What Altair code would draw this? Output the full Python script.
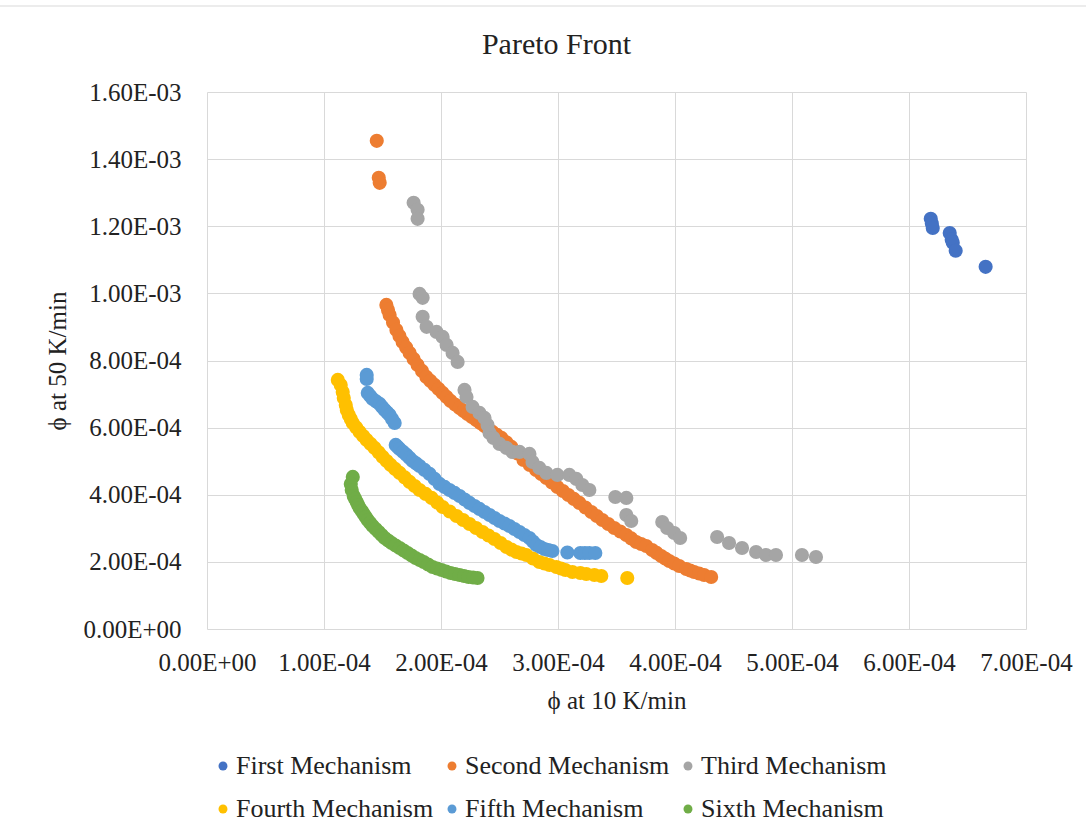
import altair as alt
import pandas as pd

FONT = "Liberation Serif"
TXT = "#222222"
GRID = "#d9d9d9"

series_names = ["First Mechanism", "Second Mechanism", "Third Mechanism",
                "Fourth Mechanism", "Fifth Mechanism", "Sixth Mechanism"]
series_colors = ["#4472C4", "#ED7D31", "#A5A5A5", "#FFC000", "#5B9BD5", "#70AD47"]

x_ticks = [0.0, 1e-4, 2e-4, 3e-4, 4e-4, 5e-4, 6e-4, 7e-4]
y_ticks = [0.0, 2e-4, 4e-4, 6e-4, 8e-4, 1e-3, 1.2e-3, 1.4e-3, 1.6e-3]

# values, in units of 1e-4
first_x = [6.186, 6.195, 6.203, 6.348, 6.365, 6.374, 6.399, 6.655]
first_y = [12.22, 12.08, 11.95, 11.80, 11.60, 11.51, 11.27, 10.79]

second_x = [1.451, 1.468, 1.476,
            1.533, 1.547, 1.561, 1.590, 1.619, 1.645, 1.672, 1.702, 1.732, 1.766, 1.800,
            1.838, 1.875, 1.910, 1.945, 1.980, 2.014, 2.048, 2.082, 2.120, 2.159, 2.193,
            2.227, 2.264, 2.301, 2.336, 2.372, 2.406, 2.440, 2.478, 2.517, 2.560, 2.602,
            2.654, 2.705, 2.759, 2.813, 2.857, 2.901, 2.948, 2.995, 3.042, 3.089, 3.136,
            3.183, 3.234, 3.285, 3.332, 3.379, 3.430, 3.481, 3.532, 3.584, 3.626, 3.669,
            3.711, 3.754, 3.805, 3.843, 3.882, 3.916, 3.951, 3.993, 4.036, 4.096, 4.130,
            4.164, 4.206, 4.249, 4.309]
second_y = [14.545, 13.443, 13.294,
            9.657, 9.508, 9.359, 9.135, 8.912, 8.733, 8.554, 8.390, 8.226, 8.047, 7.869,
            7.690, 7.511, 7.392, 7.273, 7.153, 7.034, 6.915, 6.796, 6.690, 6.587, 6.497,
            6.408, 6.318, 6.229, 6.140, 6.051, 5.961, 5.872, 5.782, 5.693, 5.559, 5.425,
            5.231, 5.037, 4.888, 4.739, 4.620, 4.501, 4.366, 4.232, 4.113, 3.994, 3.875,
            3.756, 3.621, 3.487, 3.368, 3.249, 3.130, 3.010, 2.906, 2.802, 2.698, 2.593,
            2.534, 2.474, 2.355, 2.266, 2.176, 2.101, 2.027, 1.952, 1.878, 1.788, 1.743,
            1.699, 1.654, 1.610, 1.550]

third_x = [1.766, 1.800, 1.800, 1.817, 1.843, 1.843, 1.877, 1.962, 2.014, 2.048, 2.099,
           2.142, 2.201, 2.218, 2.270, 2.329, 2.372, 2.398, 2.415, 2.449, 2.500, 2.560,
           2.611, 2.671, 2.756, 2.782, 2.841, 2.901, 2.995, 3.097, 3.157, 3.208, 3.268,
           3.490, 3.584, 3.584, 3.626, 3.891, 3.933, 3.993, 4.044, 4.360, 4.462, 4.573,
           4.693, 4.778, 4.863, 5.085, 5.205]
third_y = [12.697, 12.489, 12.220, 9.985, 9.866, 9.300, 9.002, 8.852, 8.703, 8.465, 8.226,
           7.958, 7.124, 6.915, 6.617, 6.438, 6.289, 6.080, 5.842, 5.693, 5.514, 5.395,
           5.276, 5.276, 5.216, 4.978, 4.799, 4.650, 4.590, 4.590, 4.471, 4.292, 4.143,
           3.934, 3.905, 3.398, 3.219, 3.189, 3.010, 2.861, 2.712, 2.742, 2.563, 2.414,
           2.295, 2.206, 2.206, 2.206, 2.146]

fourth_x = [1.118, 1.143, 1.160, 1.169, 1.186, 1.195, 1.212, 1.229, 1.246, 1.275, 1.305,
            1.335, 1.365, 1.399, 1.433, 1.468, 1.502, 1.536, 1.570, 1.608, 1.647, 1.690,
            1.732, 1.775, 1.817, 1.869, 1.920, 1.967, 2.014, 2.074, 2.133, 2.189, 2.244,
            2.300, 2.355, 2.406, 2.457, 2.509, 2.560, 2.602, 2.645, 2.688, 2.730, 2.786,
            2.841, 2.884, 2.927, 2.986, 3.025, 3.063, 3.123, 3.191, 3.242, 3.311, 3.370,
            3.592]
fourth_y = [7.422, 7.273, 7.064, 6.885, 6.677, 6.528, 6.379, 6.260, 6.140, 6.006, 5.872,
            5.752, 5.633, 5.514, 5.395, 5.261, 5.127, 5.007, 4.888, 4.769, 4.650, 4.516,
            4.382, 4.262, 4.143, 4.024, 3.905, 3.770, 3.636, 3.502, 3.368, 3.249, 3.130,
            3.010, 2.891, 2.787, 2.683, 2.563, 2.444, 2.370, 2.295, 2.250, 2.206, 2.101,
            1.997, 1.952, 1.908, 1.848, 1.803, 1.759, 1.699, 1.669, 1.639, 1.610, 1.580,
            1.520]

fifth_x = [1.365, 1.365, 1.374, 1.395, 1.416, 1.446, 1.476, 1.497, 1.519, 1.540, 1.561,
           1.582, 1.604,
           1.613, 1.630, 1.647, 1.677, 1.706, 1.732, 1.758, 1.788, 1.817, 1.860, 1.903,
           1.946, 1.988, 2.031, 2.073, 2.116, 2.159, 2.202, 2.244, 2.287, 2.329, 2.372,
           2.415, 2.458, 2.500, 2.543, 2.585, 2.628, 2.671, 2.713, 2.756, 2.786, 2.816,
           2.850, 2.884, 2.918, 2.952,
           3.080, 3.191, 3.230, 3.268, 3.319]
fifth_y = [7.571, 7.452, 7.034, 6.945, 6.855, 6.780, 6.706, 6.617, 6.528, 6.453, 6.379,
           6.260, 6.140,
           5.484, 5.425, 5.365, 5.276, 5.186, 5.097, 5.007, 4.933, 4.858, 4.739, 4.620,
           4.471, 4.322, 4.233, 4.143, 4.054, 3.964, 3.860, 3.756, 3.666, 3.577, 3.487,
           3.398, 3.308, 3.219, 3.144, 3.070, 2.980, 2.891, 2.801, 2.712, 2.608, 2.504,
           2.444, 2.385, 2.355, 2.325,
           2.280, 2.265, 2.265, 2.265, 2.265]

sixth_x = [1.246, 1.229, 1.237, 1.254, 1.267, 1.280, 1.292, 1.305, 1.323, 1.340, 1.357,
           1.374, 1.395, 1.416, 1.442, 1.468, 1.493, 1.519, 1.548, 1.578, 1.612, 1.647,
           1.681, 1.715, 1.749, 1.783, 1.818, 1.852, 1.890, 1.928, 1.966, 2.005, 2.043,
           2.082, 2.120, 2.159, 2.197, 2.235, 2.274, 2.312]
sixth_y = [4.531, 4.322, 4.143, 3.964, 3.875, 3.785, 3.696, 3.607, 3.517, 3.428, 3.338,
           3.249, 3.160, 3.070, 2.981, 2.891, 2.801, 2.712, 2.638, 2.563, 2.489, 2.414,
           2.340, 2.265, 2.191, 2.116, 2.056, 1.997, 1.922, 1.848, 1.803, 1.759, 1.714,
           1.669, 1.640, 1.610, 1.580, 1.550, 1.535, 1.520]

all_x = [first_x, second_x, third_x, fourth_x, fifth_x, sixth_x]
all_y = [first_y, second_y, third_y, fourth_y, fifth_y, sixth_y]

UNIT = 1e-4
rows = []
for name, xs, ys in zip(series_names, all_x, all_y):
    for xv, yv in zip(xs, ys):
        rows.append({"series": name, "phi10": xv * UNIT, "phi50": yv * UNIT})
df = pd.DataFrame(rows)

label_expr = "replace(replace(format(datum.value, '.2e'), 'e-', 'E-0'), 'e+', 'E+0')"

points = alt.Chart(df).mark_circle(size=200, opacity=1).encode(
    x=alt.X("phi10:Q",
            scale=alt.Scale(domain=[0, 7e-4], nice=False),
            axis=alt.Axis(values=x_ticks, labelExpr=label_expr, title="ϕ at 10 K/min",
                          grid=True, gridColor=GRID, domain=False, ticks=False,
                          labelPadding=21, titlePadding=13, labelFlush=False)),
    y=alt.Y("phi50:Q",
            scale=alt.Scale(domain=[0, 1.6e-3], nice=False),
            axis=alt.Axis(values=y_ticks, labelExpr=label_expr, title="ϕ at 50 K/min",
                          grid=True, gridColor=GRID, domain=False, ticks=False,
                          labelPadding=26, titlePadding=12)),
    color=alt.Color("series:N",
                    scale=alt.Scale(domain=series_names, range=series_colors),
                    legend=alt.Legend(orient="none", legendX=3, legendY=661,
                                      direction="horizontal", columns=3, title=None,
                                      symbolType="circle", symbolSize=80,
                                      symbolStrokeWidth=0, labelFontSize=26,
                                      labelFont=FONT, labelColor=TXT, columnPadding=5,
                                      rowPadding=17, labelOffset=0, padding=0,
                                      labelLimit=400)),
)

top_line = alt.Chart(pd.DataFrame({"a": [0]})).mark_rule(color=GRID, strokeWidth=1).encode(
    x=alt.value(-207), x2=alt.value(879), y=alt.value(-86))

chart = alt.layer(top_line, points).properties(
    width=819, height=537,
    title=alt.TitleParams("Pareto Front", fontSize=30, font=FONT, fontWeight="normal",
                          color=TXT, anchor="middle", frame="group", dx=-60, offset=-54),
    autosize=alt.AutoSizeParams(type="none"),
    padding={"left": 207, "top": 92, "right": 60, "bottom": 208},
).configure_axis(
    labelFont=FONT, titleFont=FONT, labelFontSize=25, titleFontSize=25,
    labelColor=TXT, titleColor=TXT, titleFontWeight="normal",
).configure_view(stroke="transparent")

chart.save("out.html", embed_options={"renderer": "svg", "actions": False})
